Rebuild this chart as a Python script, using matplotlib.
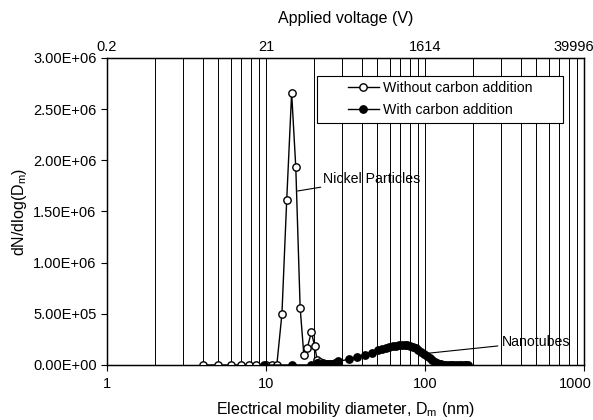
import numpy as np
import matplotlib.pyplot as plt
import matplotlib.transforms as mtrans
from matplotlib.patches import Rectangle
from matplotlib.ticker import FixedLocator, LogLocator, NullFormatter

plt.rcParams['font.family'] = ['Liberation Sans', 'DejaVu Sans']

# sin carbono (circulos abiertos)
d_sin = [4.0, 5.0, 6.0, 7.0, 7.8, 8.7, 10.0, 10.9, 11.7, 12.6, 13.5, 14.5, 15.4, 16.4,
         17.3, 18.2, 19.3, 20.2, 21.0, 22.0, 23.0, 24.5, 26.0, 27.2, 28.4]
n_sin = [0, 0, 0, 0, 0, 0, 0, 0, 0, 5.0e5, 1.61e6, 2.66e6, 1.93e6, 5.6e5,
         1.0e5, 1.7e5, 3.2e5, 1.9e5, 5.0e4, 3.0e4, 2.0e4, 1.0e4, 5.0e3, 2.0e3, 1.0e3]

# con carbono (circulos llenos)
d_con = [9.7, 14.5, 19.2, 21.0, 22.0, 23.0, 24.0, 25.0, 26.0, 27.0, 28.3, 33.1, 37.5,
         41.9, 46.3, 50.7, 53.5, 56.5, 59.5, 62.5, 65.5, 68.5, 71.5, 74.5, 77.5, 80.5,
         84.0, 87.5, 91.0, 95.0, 99.0, 103.0, 107.0, 111.0, 115.0, 119.0, 123.0,
         127.0, 131.0, 136.0, 141.0, 146.0, 151.0, 157.0, 163.0, 169.0, 175.0,
         181.0, 187.0]
n_con = [0, 0, 0, 1.5e4, 1.0e4, 8.0e3, 6.0e3, 5.0e3, 8.0e3, 1.5e4, 3.5e4, 5.5e4, 7.5e4,
         9.8e4, 1.2e5, 1.45e5, 1.58e5, 1.68e5, 1.77e5, 1.85e5, 1.9e5, 1.94e5, 1.96e5,
         1.95e5, 1.92e5, 1.86e5, 1.76e5, 1.63e5, 1.47e5, 1.28e5, 1.1e5, 9.0e4, 7.0e4,
         5.0e4, 3.3e4, 2.0e4, 1.1e4, 5.0e3, 2.0e3, 0, 0, 0, 0, 0, 0, 0, 0, 0, 0]

volt_pos = [1, 10, 100, 1000]
volt_lab = ['0.2', '21', '1614', '39996']
x_lab = ['1', '10', '100', '1000']
y_ticks = [0, 5e5, 1e6, 1.5e6, 2e6, 2.5e6, 3e6]

fig = plt.figure(figsize=(5.93, 4.20), dpi=100)
ax = fig.add_axes([0.1804, 0.131, 0.8044, 0.731])

ax.set_xscale('log')
ax.set_xlim(1, 1000)
ax.set_ylim(0, 3e6)

# lineas verticales en cada tick
ax.grid(True, which='both', axis='x', color='black', linewidth=0.7)
ax.set_axisbelow(True)

ax.plot(d_sin, n_sin, color='black', lw=1.0, marker='o', ms=5.3, mfc='white',
        mec='black', mew=1.0, label='Without carbon addition', zorder=3)
ax.plot(d_con, n_con, color='black', lw=1.0, marker='o', ms=5.3, mfc='black',
        mec='black', label='With carbon addition', zorder=3)

ax.set_yticks(y_ticks)
ax.set_yticklabels(['%.2E' % v for v in y_ticks])
ax.xaxis.set_major_locator(FixedLocator(volt_pos))
ax.set_xticklabels(x_lab)
ax.xaxis.set_minor_locator(LogLocator(base=10, subs=np.arange(2, 10)))
ax.xaxis.set_minor_formatter(NullFormatter())
ax.tick_params(axis='both', labelsize=10.5, length=4, width=0.8, direction='out')
ax.tick_params(axis='x', which='minor', length=0)
ax.tick_params(axis='x', pad=5)

ax.set_xlabel('Electrical mobility diameter, D$_\\mathregular{m}$ (nm)', fontsize=11.5, labelpad=6)
ax.set_ylabel('dN/dlog(D$_\\mathregular{m}$)', fontsize=11.5, labelpad=3)

top = ax.twiny()
top.set_xscale('log')
top.set_xlim(1, 1000)
top.xaxis.set_major_locator(FixedLocator(volt_pos))
top.set_xticklabels(volt_lab)
top.xaxis.set_minor_formatter(NullFormatter())
top.tick_params(axis='x', which='both', length=0, labelsize=10.5, pad=3)
top.set_xlabel('Applied voltage (V)', fontsize=11.5, labelpad=12)

# la ultima etiqueta se corre a la izquierda como en el original
sh_top = mtrans.ScaledTranslation(-10 / 100, 0, fig.dpi_scale_trans)
top.get_xticklabels()[-1].set_transform(top.get_xticklabels()[-1].get_transform() + sh_top)
sh_bot = mtrans.ScaledTranslation(-9 / 100, 0, fig.dpi_scale_trans)
ax.get_xticklabels()[-1].set_transform(ax.get_xticklabels()[-1].get_transform() + sh_bot)

# marco de la leyenda
ax.add_patch(Rectangle((0.440, 0.788), 0.516, 0.153, transform=ax.transAxes,
                       facecolor='white', edgecolor='black', lw=0.8, zorder=4))
leg = ax.legend(loc='center left', bbox_to_anchor=(0.49, 0.866), fontsize=10.2,
                frameon=False, handlelength=2.2, handletextpad=0.3,
                borderpad=0.0, labelspacing=0.6)
leg.set_zorder(5)

ax.annotate('Nickel Particles', xy=(15.8, 1.7e6), xytext=(23, 1.82e6),
            fontsize=10.2, va='center',
            arrowprops=dict(arrowstyle='-', color='black', lw=0.8, shrinkA=0, shrinkB=0))
ax.annotate('Nanotubes', xy=(105, 1.15e5), xytext=(305, 2.25e5),
            fontsize=10.2, va='center',
            arrowprops=dict(arrowstyle='-', color='black', lw=0.8, shrinkA=1, shrinkB=0))

for s in ax.spines.values():
    s.set_linewidth(1.0)

fig.savefig('out.png', dpi=100)
